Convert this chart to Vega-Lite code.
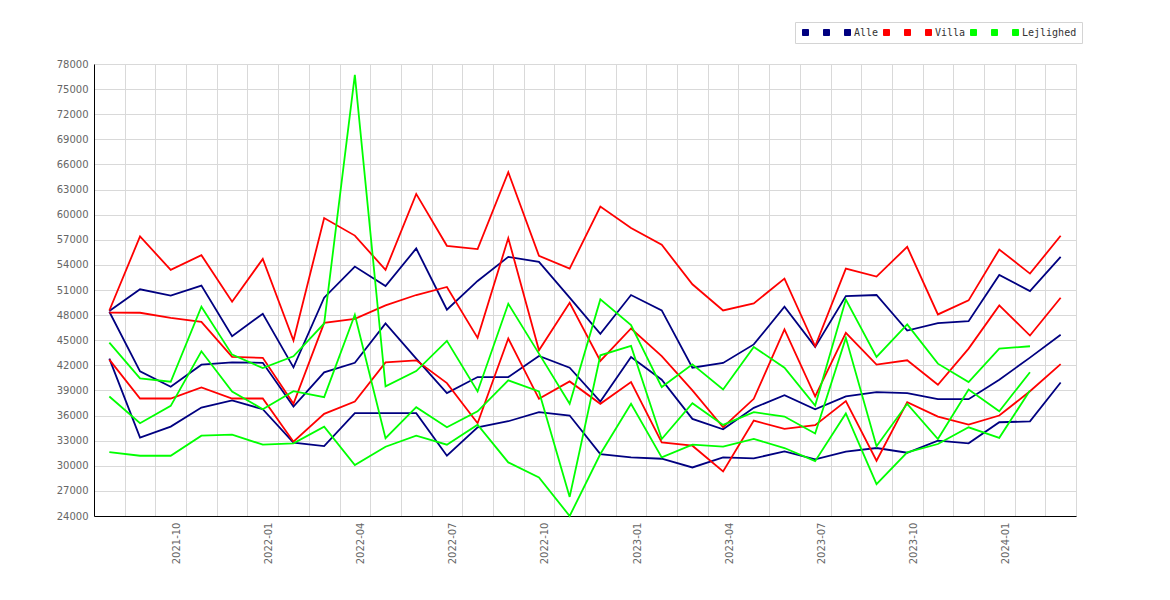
{
  "$schema": "https://vega.github.io/schema/vega-lite/v6.json",
  "width": 982,
  "height": 452,
  "autosize": {"type": "none"},
  "padding": {"left": 94, "top": 64, "right": 94, "bottom": 84},
  "background": "white",
  "data": {
    "values": [
      {"m": "2021-08", "Alle_1": 48480, "Alle_2": 42800, "Alle": 48400, "Villa_1": 48550, "Villa_2": 42680, "Villa": 48300, "Lejlighed_1": 44720, "Lejlighed_2": 31640, "Lejlighed": 38280},
      {"m": "2021-09", "Alle_1": 51080, "Alle_2": 33360, "Alle": 41280, "Villa_1": 57400, "Villa_2": 38040, "Villa": 48280, "Lejlighed_1": 40440, "Lejlighed_2": 31200, "Lejlighed": 35080},
      {"m": "2021-10", "Alle_1": 50320, "Alle_2": 34680, "Alle": 39440, "Villa_1": 53400, "Villa_2": 38040, "Villa": 47680, "Lejlighed_1": 40040, "Lejlighed_2": 31200, "Lejlighed": 37160},
      {"m": "2021-11", "Alle_1": 51520, "Alle_2": 36960, "Alle": 42080, "Villa_1": 55160, "Villa_2": 39360, "Villa": 47200, "Lejlighed_1": 49000, "Lejlighed_2": 33600, "Lejlighed": 43680},
      {"m": "2021-12", "Alle_1": 45480, "Alle_2": 37800, "Alle": 42360, "Villa_1": 49600, "Villa_2": 38040, "Villa": 43000, "Lejlighed_1": 43280, "Lejlighed_2": 33720, "Lejlighed": 38880},
      {"m": "2022-01", "Alle_1": 48160, "Alle_2": 36760, "Alle": 42300, "Villa_1": 54720, "Villa_2": 38040, "Villa": 42900, "Lejlighed_1": 41680, "Lejlighed_2": 32520, "Lejlighed": 36760},
      {"m": "2022-02", "Alle_1": 41760, "Alle_2": 32760, "Alle": 37080, "Villa_1": 44960, "Villa_2": 32880, "Villa": 37400, "Lejlighed_1": 43080, "Lejlighed_2": 32680, "Lejlighed": 38920},
      {"m": "2022-03", "Alle_1": 50080, "Alle_2": 32360, "Alle": 41160, "Villa_1": 59600, "Villa_2": 36200, "Villa": 47080, "Lejlighed_1": 47000, "Lejlighed_2": 34680, "Lejlighed": 38200},
      {"m": "2022-04", "Alle_1": 53800, "Alle_2": 36280, "Alle": 42300, "Villa_1": 57500, "Villa_2": 37680, "Villa": 47550, "Lejlighed_1": 76700, "Lejlighed_2": 30080, "Lejlighed": 48040},
      {"m": "2022-05", "Alle_1": 51480, "Alle_2": 36280, "Alle": 47000, "Villa_1": 53400, "Villa_2": 42360, "Villa": 49160, "Lejlighed_1": 39500, "Lejlighed_2": 32280, "Lejlighed": 33300},
      {"m": "2022-06", "Alle_1": 55960, "Alle_2": 36280, "Alle": 42800, "Villa_1": 62480, "Villa_2": 42600, "Villa": 50400, "Lejlighed_1": 41320, "Lejlighed_2": 33600, "Lejlighed": 37000},
      {"m": "2022-07", "Alle_1": 48640, "Alle_2": 31200, "Alle": 38680, "Villa_1": 56280, "Villa_2": 39880, "Villa": 51360, "Lejlighed_1": 44920, "Lejlighed_2": 32520, "Lejlighed": 34600},
      {"m": "2022-08", "Alle_1": 52080, "Alle_2": 34600, "Alle": 40600, "Villa_1": 55880, "Villa_2": 35080, "Villa": 45280, "Lejlighed_1": 38880, "Lejlighed_2": 34900, "Lejlighed": 36500},
      {"m": "2022-09", "Alle_1": 54960, "Alle_2": 35320, "Alle": 40600, "Villa_1": 65080, "Villa_2": 45200, "Villa": 57200, "Lejlighed_1": 49360, "Lejlighed_2": 30400, "Lejlighed": 40200},
      {"m": "2022-10", "Alle_1": 54360, "Alle_2": 36400, "Alle": 43120, "Villa_1": 55080, "Villa_2": 38000, "Villa": 43800, "Lejlighed_1": 43400, "Lejlighed_2": 28600, "Lejlighed": 38880},
      {"m": "2022-11", "Alle_1": 50080, "Alle_2": 36000, "Alle": 41720, "Villa_1": 53560, "Villa_2": 40080, "Villa": 49480, "Lejlighed_1": 37400, "Lejlighed_2": 24000, "Lejlighed": 26280},
      {"m": "2022-12", "Alle_1": 45760, "Alle_2": 31400, "Alle": 37680, "Villa_1": 60960, "Villa_2": 37400, "Villa": 42520, "Lejlighed_1": 49880, "Lejlighed_2": 31400, "Lejlighed": 43200},
      {"m": "2023-01", "Alle_1": 50400, "Alle_2": 31000, "Alle": 43000, "Villa_1": 58400, "Villa_2": 40000, "Villa": 46400, "Lejlighed_1": 46800, "Lejlighed_2": 37400, "Lejlighed": 44320},
      {"m": "2023-02", "Alle_1": 48560, "Alle_2": 30840, "Alle": 40280, "Villa_1": 56400, "Villa_2": 32800, "Villa": 43100, "Lejlighed_1": 39400, "Lejlighed_2": 31000, "Lejlighed": 33200},
      {"m": "2023-03", "Alle_1": 41720, "Alle_2": 29800, "Alle": 35600, "Villa_1": 51680, "Villa_2": 32400, "Villa": 39000, "Lejlighed_1": 42120, "Lejlighed_2": 32520, "Lejlighed": 37480},
      {"m": "2023-04", "Alle_1": 42280, "Alle_2": 31000, "Alle": 34360, "Villa_1": 48560, "Villa_2": 29320, "Villa": 34600, "Lejlighed_1": 39120, "Lejlighed_2": 32280, "Lejlighed": 34880},
      {"m": "2023-05", "Alle_1": 44500, "Alle_2": 30880, "Alle": 36920, "Villa_1": 49400, "Villa_2": 35400, "Villa": 38000, "Lejlighed_1": 44200, "Lejlighed_2": 33200, "Lejlighed": 36400},
      {"m": "2023-06", "Alle_1": 49000, "Alle_2": 31720, "Alle": 38440, "Villa_1": 52360, "Villa_2": 34400, "Villa": 46300, "Lejlighed_1": 41720, "Lejlighed_2": 32120, "Lejlighed": 35880},
      {"m": "2023-07", "Alle_1": 44200, "Alle_2": 30760, "Alle": 36750, "Villa_1": 44280, "Villa_2": 34850, "Villa": 38300, "Lejlighed_1": 37200, "Lejlighed_2": 30550, "Lejlighed": 33860},
      {"m": "2023-08", "Alle_1": 50280, "Alle_2": 31680, "Alle": 38280, "Villa_1": 53560, "Villa_2": 37720, "Villa": 45880, "Lejlighed_1": 49860, "Lejlighed_2": 36250, "Lejlighed": 45280},
      {"m": "2023-09", "Alle_1": 50400, "Alle_2": 32120, "Alle": 38800, "Villa_1": 52600, "Villa_2": 30600, "Villa": 42080, "Lejlighed_1": 43000, "Lejlighed_2": 27800, "Lejlighed": 32340},
      {"m": "2023-10", "Alle_1": 46160, "Alle_2": 31560, "Alle": 38680, "Villa_1": 56160, "Villa_2": 37600, "Villa": 42600, "Lejlighed_1": 46880, "Lejlighed_2": 31600, "Lejlighed": 37400},
      {"m": "2023-11", "Alle_1": 47040, "Alle_2": 33000, "Alle": 37960, "Villa_1": 48080, "Villa_2": 35880, "Villa": 39680, "Lejlighed_1": 42200, "Lejlighed_2": 32600, "Lejlighed": 33200},
      {"m": "2023-12", "Alle_1": 47280, "Alle_2": 32680, "Alle": 37960, "Villa_1": 49760, "Villa_2": 34920, "Villa": 44000, "Lejlighed_1": 40000, "Lejlighed_2": 34600, "Lejlighed": 39120},
      {"m": "2024-01", "Alle_1": 52800, "Alle_2": 35200, "Alle": 40280, "Villa_1": 55840, "Villa_2": 36000, "Villa": 49160, "Lejlighed_1": 44000, "Lejlighed_2": 33340, "Lejlighed": 36520},
      {"m": "2024-02", "Alle_1": 50880, "Alle_2": 35300, "Alle": 42920, "Villa_1": 52960, "Villa_2": 38900, "Villa": 45560, "Lejlighed_1": 44280, "Lejlighed_2": 39000, "Lejlighed": 41180},
      {"m": "2024-03", "Alle_1": 54960, "Alle_2": 39950, "Alle": 45650, "Villa_1": 57480, "Villa_2": 42150, "Villa": 50080}
    ]
  },
  "transform": [
    {
      "fold": ["Alle_1", "Alle_2", "Alle", "Villa_1", "Villa_2", "Villa", "Lejlighed_1", "Lejlighed_2", "Lejlighed"],
      "as": ["serie", "value"]
    },
    {"filter": "isValid(datum.value)"}
  ],
  "mark": {"type": "line", "strokeWidth": 1.8, "interpolate": "linear"},
  "encoding": {
    "x": {
      "field": "m",
      "type": "ordinal",
      "bandPosition": 0.5,
      "scale": {"type": "band", "paddingInner": 0, "paddingOuter": 0},
      "axis": {
        "title": null,
        "tickBand": "extent",
        "ticks": false,
        "grid": true,
        "labelAngle": 270,
        "labelAlign": "right",
        "labelBaseline": "middle",
        "labelOffset": 6,
        "labelPadding": 6,
        "labelOverlap": false,
        "labelExpr": "isString(datum.value) && indexof(['01', '04', '07', '10'], slice(datum.value, 5)) >= 0 ? datum.value : ''"
      }
    },
    "y": {
      "field": "value",
      "type": "quantitative",
      "scale": {"domain": [24000, 78000], "nice": false, "zero": false},
      "axis": {
        "title": null,
        "ticks": false,
        "labelPadding": 6,
        "format": "d",
        "values": [24000, 27000, 30000, 33000, 36000, 39000, 42000, 45000, 48000, 51000, 54000, 57000, 60000, 63000, 66000, 69000, 72000, 75000, 78000]
      }
    },
    "color": {
      "field": "serie",
      "type": "nominal",
      "scale": {
        "domain": ["Alle_1", "Alle_2", "Alle", "Villa_1", "Villa_2", "Villa", "Lejlighed_1", "Lejlighed_2", "Lejlighed"],
        "range": ["#000080", "#000080", "#000080", "#ff0000", "#ff0000", "#ff0000", "#00ff00", "#00ff00", "#00ff00"]
      },
      "legend": {
        "title": null,
        "orient": "none",
        "legendX": 701,
        "legendY": -42,
        "direction": "horizontal",
        "labelFont": "DejaVu Sans Mono",
        "labelFontSize": 10,
        "labelColor": "#333",
        "labelExpr": "indexof(datum.value, '_') >= 0 ? 'x' : datum.label",
        "labelOffset": 1.5,
        "columnPadding": 3,
        "padding": 5.5,
        "strokeColor": "#d4d4d4",
        "fillColor": "#ffffff",
        "symbolType": "square",
        "symbolSize": 36,
        "symbolStrokeWidth": 1,
        "symbolStrokeColor": "#555555",
        "encode": {
          "symbols": {
            "update": {
              "fill": {"scale": "color", "field": "value"},
              "stroke": {"value": "#555555"},
              "strokeWidth": {"value": 1},
              "opacity": {"value": 1},
              "shape": {"value": "square"}
            }
          },
          "labels": {
            "update": {
              "fillOpacity": {"signal": "indexof(datum.value, '_') >= 0 ? 0 : 1"}
            }
          }
        }
      }
    }
  },
  "config": {
    "view": {"stroke": null},
    "axis": {
      "labelFont": "DejaVu Sans",
      "labelFontSize": 10,
      "labelColor": "#666666",
      "gridColor": "#d9d9d9",
      "gridWidth": 1,
      "domainColor": "#000000",
      "domainWidth": 1
    }
  }
}
